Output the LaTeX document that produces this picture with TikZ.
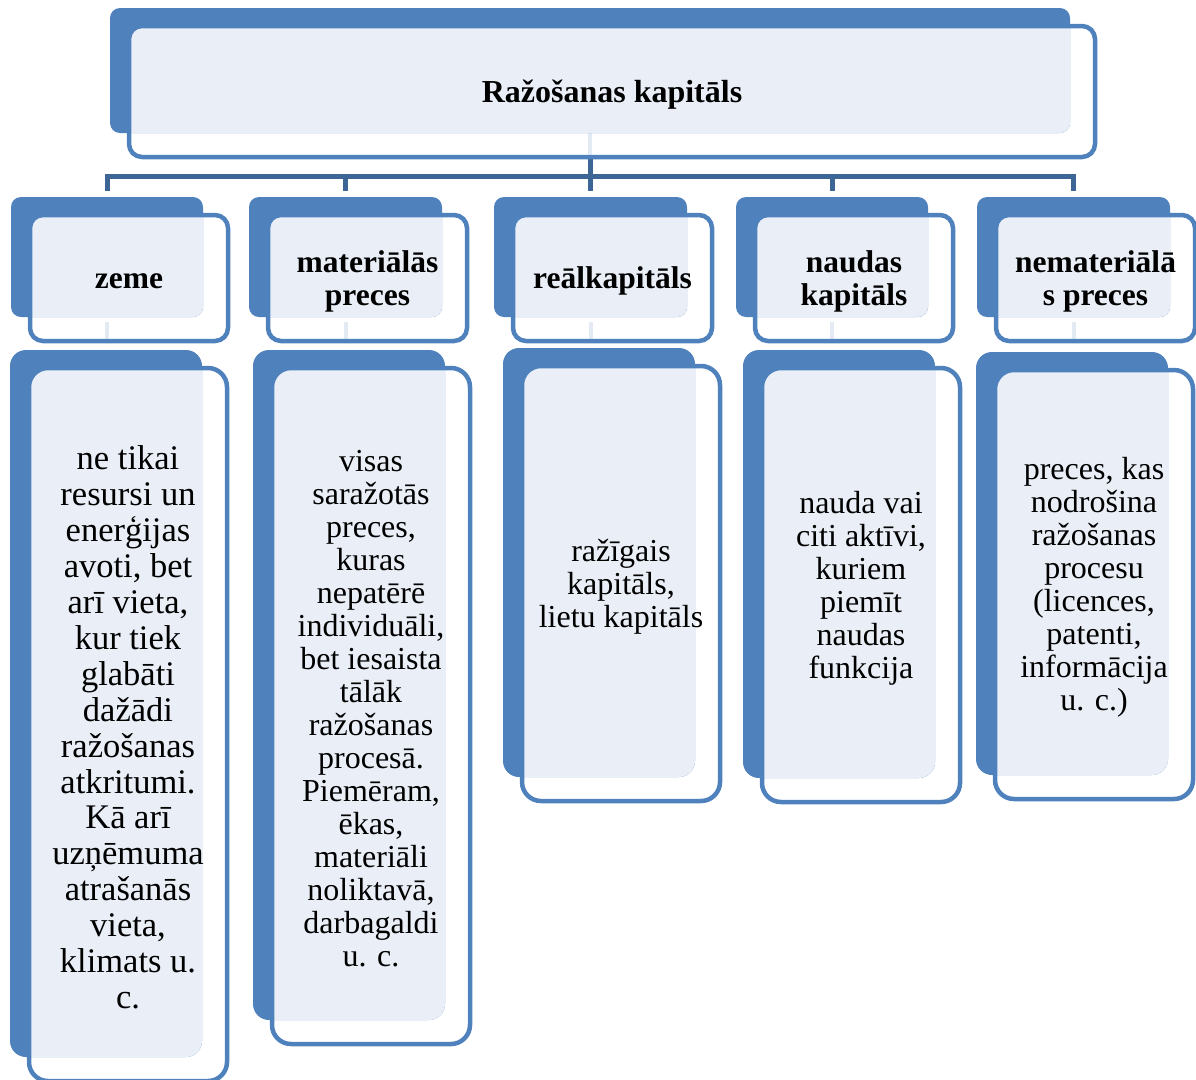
\documentclass[tikz,border=0pt]{standalone}
\usepackage{fontspec}
\setmainfont{Liberation Serif}
\usetikzlibrary{backgrounds,calc}

\definecolor{kbBlue}{HTML}{4F81BD}
\definecolor{kbLight}{HTML}{EAEFF7}
\definecolor{kbDark}{HTML}{3D6595}
\definecolor{kbStub}{HTML}{E4EAF4}

\tikzset{
  backbox/.style={fill=kbBlue, inner sep=0pt, outer sep=0pt},
  frontbox/.style={draw=kbBlue, line width=4.5pt, inner sep=0pt, outer sep=0pt},
  cardtext/.style={inner sep=0pt, align=center, text=black},
  titletext/.style={font=\bfseries\fontsize{32}{36}\selectfont},
  headtext/.style={font=\bfseries\fontsize{31.5}{33}\selectfont},
  desctext/.style={font=\fontsize{32}{33}\selectfont},
  desclarge/.style={font=\fontsize{34.5}{35.9}\selectfont},
  trunk/.style={draw=kbDark, line width=5pt},
  stub/.style={draw=kbStub, line width=4pt},
}

% Layered box: solid back card, light overlap, outlined front card with text.
% #1 name, #2..#5 back card corners, #6 corner radius, #7 text style, #8 text
\newcommand\kapbox[8]{%
  \pgfmathsetmacro\kbW{#4-#2}\pgfmathsetmacro\kbH{#5-#3}%
  \pgfmathsetmacro\kbCx{(#2+#4)/2}\pgfmathsetmacro\kbCy{(#3+#5)/2}%
  \pgfmathsetmacro\kbFxa{#2+19}\pgfmathsetmacro\kbFya{#3+18}%
  \pgfmathsetmacro\kbFxb{#4+25}\pgfmathsetmacro\kbFyb{#5+24}%
  \pgfmathsetmacro\kbFw{\kbFxb-\kbFxa}\pgfmathsetmacro\kbFh{\kbFyb-\kbFya}%
  \pgfmathsetmacro\kbFcx{(\kbFxa+\kbFxb)/2}\pgfmathsetmacro\kbFcy{(\kbFya+\kbFyb)/2}%
  \pgfmathsetmacro\kbFr{#6+3}%
  \node[backbox, rounded corners=#6pt, minimum width=\kbW pt, minimum height=\kbH pt]
    (#1-b) at (\kbCx,\kbCy) {};
  \begin{scope}
    \clip[rounded corners=#6pt] (#2,#3) rectangle (#4,#5);
    \fill[kbLight, rounded corners=\kbFr pt] (\kbFxa,\kbFya) rectangle (\kbFxb,\kbFyb);
  \end{scope}
  \node[frontbox, rounded corners=\kbFr pt, minimum width=\kbFw pt, minimum height=\kbFh pt]
    (#1-f) at (\kbFcx,\kbFcy) {};
  \node[cardtext, #7] (#1-t) at ([yshift=-3pt]#1-f.center) {#8};
}

\begin{document}
\begin{tikzpicture}[x=1pt,y=-1pt]
\useasboundingbox (0,0) rectangle (1196,1079);

% root
\kapbox{top}{110}{8}{1070}{133}{10}{titletext}{Ražošanas kapitāls}

% categories
\kapbox{h1}{11}{197}{203}{317}{10}{headtext}{zeme}
\kapbox{h2}{249}{197}{442}{317}{10}{headtext}{materiālās\\preces}
\kapbox{h3}{494}{197}{687}{317}{10}{headtext}{reālkapitāls}
\kapbox{h4}{736}{197}{928}{317}{10}{headtext}{naudas\\kapitāls}
\kapbox{h5}{977}{197}{1170}{317}{10}{headtext}{nemateriālā\\s preces}

% explanations
\kapbox{d1}{10}{350}{202}{1057}{16}{desclarge}{ne tikai\\resursi un\\enerģijas\\avoti, bet\\arī vieta,\\kur tiek\\glabāti\\dažādi\\ražošanas\\atkritumi.\\Kā arī\\uzņēmuma\\atrašanās\\vieta,\\klimats u.\\c.}
\kapbox{d2}{253}{350}{445}{1020}{16}{desctext}{visas\\saražotās\\preces,\\kuras\\nepatērē\\individuāli,\\bet iesaista\\tālāk\\ražošanas\\procesā.\\Piemēram,\\ēkas,\\materiāli\\noliktavā,\\darbagaldi\\u. c.}
\kapbox{d3}{503}{348}{695}{777}{16}{desctext}{ražīgais\\kapitāls,\\lietu kapitāls}
\kapbox{d4}{743}{350}{935}{778}{16}{desctext}{nauda vai\\citi aktīvi,\\kuriem\\piemīt\\naudas\\funkcija}
\kapbox{d5}{976}{352}{1168}{775}{16}{desctext}{preces, kas\\nodrošina\\ražošanas\\procesu\\(licences,\\patenti,\\informācija\\u. c.)}

% connectors
\begin{pgfonlayer}{background}
  \coordinate (bus) at (590,176);
  \draw[stub] (top-b.south) -- (top-b.south |- top-f.south);
  \draw[trunk] (top-b.south |- top-f.south) -- (top-b.south |- bus);
  \draw[trunk] ([yshift=6pt]h1-b.north) -- (h1-b.north |- bus)
               -- (h5-b.north |- bus) -- ([yshift=6pt]h5-b.north);
  \foreach \k in {2,3,4} {
    \draw[trunk] (h\k-b.north |- bus) -- ([yshift=6pt]h\k-b.north);
  }
  \foreach \k in {1,...,5} {
    \draw[stub] ([yshift=-5pt]h\k-b.south) -- (h\k-b.south |- h\k-f.south);
  }
\end{pgfonlayer}
\end{tikzpicture}
\end{document}
